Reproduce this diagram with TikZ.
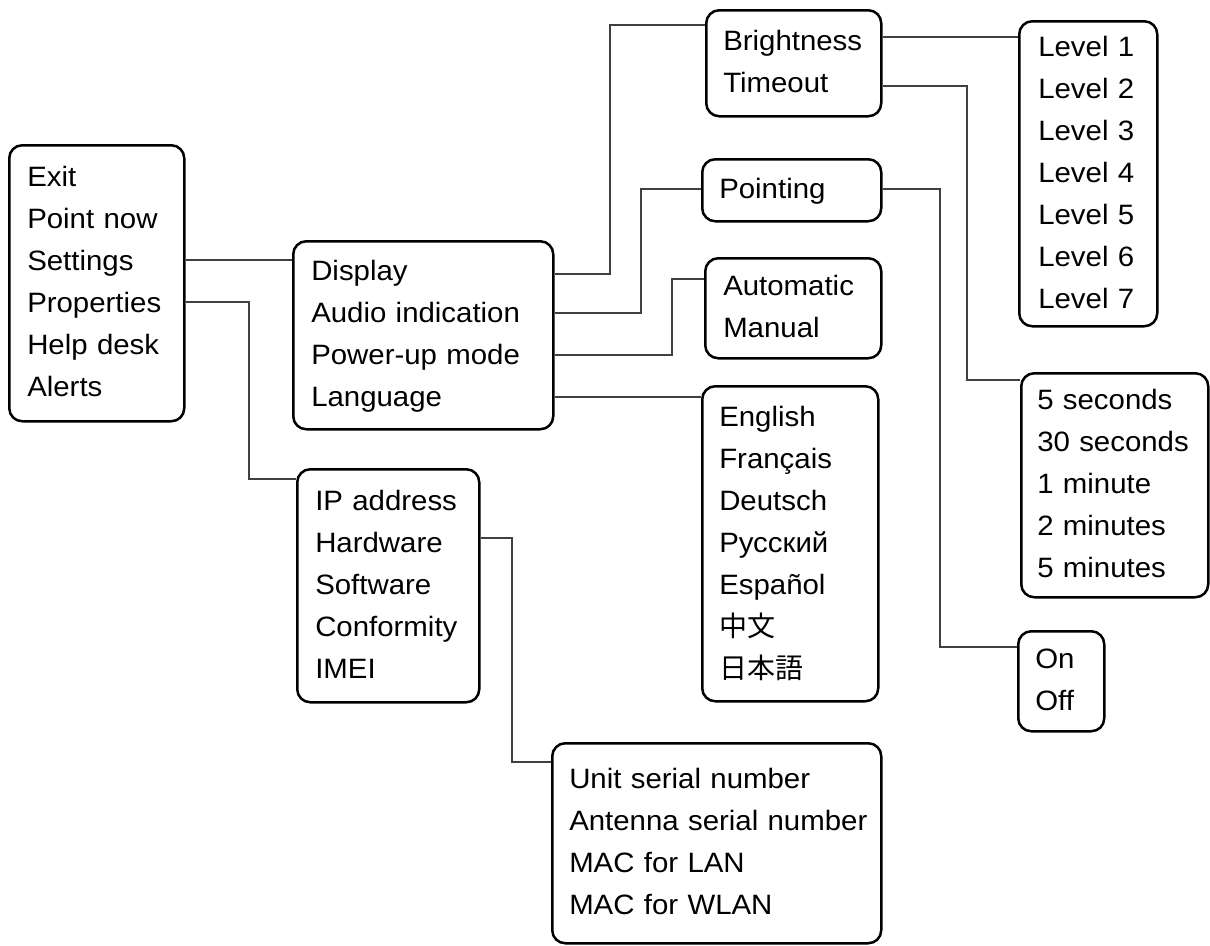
\documentclass[tikz,border=0pt]{standalone}
\usepackage{fontspec}
\setmainfont[FakeStretch=1.05]{Liberation Sans}
\newfontfamily\cjkfont{Noto Sans CJK JP}
\begin{document}
\begin{tikzpicture}[x=1pt,y=-1pt,
  menubox/.style={draw=black, line width=2.5pt, rounded corners=13pt, anchor=north west,
    inner ysep=0pt, align=left, font=\fontsize{28}{42}\selectfont},
  conn/.style={draw=black!75, line width=1.3pt}]
\useasboundingbox (0,0) rectangle (1210,945);

\node[menubox, minimum width=175pt, minimum height=276pt, inner xsep=18pt, text width=139pt] (main) at (8,144)
  {\begin{tabular}{@{}l@{}}Exit\\Point now\\Settings\\Properties\\Help desk\\Alerts\end{tabular}};
\node[menubox, minimum width=260pt, minimum height=188pt, inner xsep=18pt, text width=224pt] (disp) at (292,240)
  {\begin{tabular}{@{}l@{}}Display\\Audio indication\\Power-up mode\\Language\end{tabular}};
\node[menubox, minimum width=175pt, minimum height=106pt, inner xsep=17pt, text width=141pt] (bright) at (705,9)
  {\begin{tabular}{@{}l@{}}Brightness\\Timeout\end{tabular}};
\node[menubox, minimum width=179pt, minimum height=62pt, inner xsep=17pt, text width=145pt] (point) at (701,158)
  {\begin{tabular}{@{}l@{}}Pointing\end{tabular}};
\node[menubox, minimum width=176pt, minimum height=100pt, inner xsep=18pt, text width=140pt] (auto) at (704,257)
  {\begin{tabular}{@{}l@{}}Automatic\\Manual\end{tabular}};
\node[menubox, minimum width=176pt, minimum height=315pt, inner xsep=17pt, text width=142pt] (lang) at (701,385)
  {\begin{tabular}{@{}l@{}}English\\Français\\Deutsch\\Русский\\Español\\{\cjkfont 中文}\\{\cjkfont 日本語}\end{tabular}};
\node[menubox, minimum width=138pt, minimum height=305pt, inner xsep=19pt, text width=100pt] (levels) at (1018,20)
  {\begin{tabular}{@{}l@{}}Level 1\\Level 2\\Level 3\\Level 4\\Level 5\\Level 6\\Level 7\end{tabular}};
\node[menubox, minimum width=187pt, minimum height=224pt, inner xsep=16pt, text width=155pt] (timeout) at (1020,372)
  {\begin{tabular}{@{}l@{}}5 seconds\\30 seconds\\1 minute\\2 minutes\\5 minutes\end{tabular}};
\node[menubox, minimum width=86pt, minimum height=100pt, inner xsep=17pt, text width=52pt] (onoff) at (1017,630)
  {\begin{tabular}{@{}l@{}}On\\Off\end{tabular}};
\node[menubox, minimum width=182pt, minimum height=233pt, inner xsep=18pt, text width=146pt] (ip) at (296,468)
  {\begin{tabular}{@{}l@{}}IP address\\Hardware\\Software\\Conformity\\IMEI\end{tabular}};
\node[menubox, minimum width=329pt, minimum height=200pt, inner xsep=17pt, text width=295pt] (serial) at (551,742)
  {\begin{tabular}{@{}l@{}}Unit serial number\\Antenna serial number\\MAC for LAN\\MAC for WLAN\end{tabular}};

% connectors
\draw[conn] (main.east |- 0,260) -- (disp.west |- 0,260);
\draw[conn] (main.east |- 0,302) -| (249,479) -- (ip.west |- 0,479);
\draw[conn] (disp.east |- 0,274) -| (610,25) -- (bright.west |- 0,25);
\draw[conn] (disp.east |- 0,313) -| (641,189) -- (point.west |- 0,189);
\draw[conn] (disp.east |- 0,355) -| (672,279) -- (auto.west |- 0,279);
\draw[conn] (disp.east |- 0,397) -- (lang.west |- 0,397);
\draw[conn] (bright.east |- 0,37) -- (levels.west |- 0,37);
\draw[conn] (bright.east |- 0,86) -| (967,380) -- (timeout.west |- 0,380);
\draw[conn] (point.east |- 0,189) -| (940,647) -- (onoff.west |- 0,647);
\draw[conn] (ip.east |- 0,538) -| (512,762) -- (serial.west |- 0,762);
\end{tikzpicture}
\end{document}
